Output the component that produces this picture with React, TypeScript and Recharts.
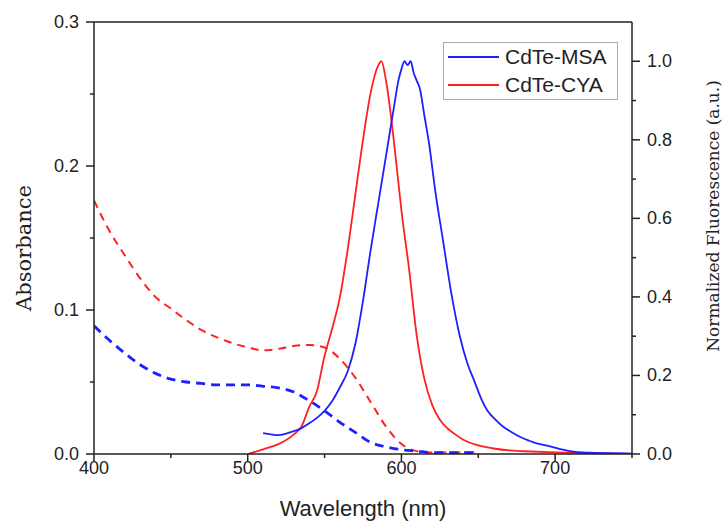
import { LineChart, Line, XAxis, YAxis, Legend, ReferenceLine } from 'recharts';

// absorbance (left axis), dashed
const absWl = [400, 410, 420, 430, 440, 450, 460, 470, 480, 490, 500, 510, 520, 530, 540, 550, 560, 570, 580, 590, 600, 610, 620, 630, 640, 650];
const msaAbs = [0.089, 0.079, 0.07, 0.062, 0.056, 0.052, 0.05, 0.049, 0.048, 0.048, 0.048, 0.047, 0.046, 0.043, 0.037, 0.03, 0.022, 0.015, 0.008, 0.005, 0.003, 0.002, 0.001, 0.001, 0.001, 0.001];
const cyaAbs = [0.176, 0.155, 0.138, 0.122, 0.109, 0.101, 0.093, 0.086, 0.081, 0.077, 0.074, 0.072, 0.073, 0.075, 0.0757, 0.074, 0.066, 0.053, 0.036, 0.019, 0.007, 0.002, 0.001, 0.001, 0.001, 0.001];

// normalized fluorescence (right axis), solid
const msaFlWl = [510, 515, 520, 525, 530, 535, 540, 545, 550, 555, 560, 565, 570, 575, 580, 585, 590, 595, 598, 600, 602, 604, 606, 608, 610, 612, 615, 618, 622, 627, 632, 638, 643, 647, 652, 656, 661, 666, 672, 677, 683, 688, 694, 699, 705, 712, 718, 725, 735, 750];
const msaFl = [0.053, 0.05, 0.048, 0.052, 0.058, 0.066, 0.078, 0.092, 0.11, 0.135, 0.17, 0.21, 0.28, 0.39, 0.52, 0.64, 0.76, 0.88, 0.95, 0.98, 1.0, 0.99, 1.0, 0.97, 0.95, 0.93, 0.86, 0.79, 0.67, 0.545, 0.42, 0.3, 0.23, 0.19, 0.14, 0.11, 0.088, 0.07, 0.055, 0.044, 0.034, 0.027, 0.022, 0.017, 0.011, 0.006, 0.004, 0.003, 0.002, 0.001];
const cyaFlWl = [500, 510, 520, 530, 535, 540, 545, 550, 555, 560, 565, 570, 575, 580, 585, 587, 590, 595, 600, 605, 610, 615, 620, 625, 630, 635, 640, 645, 650, 660, 670, 680, 700, 720, 750];
const cyaFl = [0.0, 0.012, 0.025, 0.05, 0.07, 0.12, 0.16, 0.25, 0.32, 0.4, 0.52, 0.66, 0.8, 0.92, 0.99, 1.0, 0.95, 0.8, 0.62, 0.47, 0.3, 0.19, 0.125, 0.087, 0.065, 0.05, 0.037, 0.028, 0.022, 0.014, 0.009, 0.007, 0.004, 0.002, 0.0];

const xTicks = [400, 450, 500, 550, 600, 650, 700, 750];
const absTicks = [0, 0.05, 0.1, 0.15, 0.2, 0.25, 0.3];
const flTicks = [0, 0.1, 0.2, 0.3, 0.4, 0.5, 0.6, 0.7, 0.8, 0.9, 1.0];

const BLUE = '#1f1fff';
const RED = '#ff2020';
const INK = '#222';
const SANS = '"Liberation Sans", Arial, sans-serif';
const SERIF = '"DejaVu Serif", serif';

const zip = (xs: number[], ys: number[]) => xs.map((wl, i) => ({ wl, v: ys[i] }));
const msaAbsData = zip(absWl, msaAbs);
const cyaAbsData = zip(absWl, cyaAbs);
const msaFlData = zip(msaFlWl, msaFl);
const cyaFlData = zip(cyaFlWl, cyaFl);

const XTick = ({ x, y, payload }: any) => {
  const major = payload.value % 100 === 0;
  return (
    <g>
      <line x1={x} x2={x} y1={y} y2={y + (major ? 8 : 4)} stroke={INK} strokeWidth={1.5} />
      {major && (
        <text x={x} y={y + 20} textAnchor="middle" fontFamily={SANS} fontSize={18} fill={INK}>
          {payload.value}
        </text>
      )}
    </g>
  );
};

const LeftTick = ({ x, y, payload }: any) => {
  const major = Math.round(payload.value * 100) % 10 === 0;
  return (
    <g>
      <line x1={x - (major ? 8 : 4)} x2={x} y1={y} y2={y} stroke={INK} strokeWidth={1.5} />
      {major && (
        <text x={x - 15} y={y + 6} textAnchor="end" fontFamily={SANS} fontSize={18} fill={INK}>
          {payload.value.toFixed(1)}
        </text>
      )}
    </g>
  );
};

const RightTick = ({ x, y, payload }: any) => {
  const major = Math.round(payload.value * 10) % 2 === 0;
  return (
    <g>
      <line x1={x} x2={x + (major ? 8 : 4)} y1={y} y2={y} stroke={INK} strokeWidth={1.5} />
      {major && (
        <text x={x + 15} y={y + 6} textAnchor="start" fontFamily={SANS} fontSize={18} fill={INK}>
          {payload.value.toFixed(1)}
        </text>
      )}
    </g>
  );
};

const legendItems = [
  { name: 'CdTe-MSA', color: BLUE },
  { name: 'CdTe-CYA', color: RED },
];

const LegendBox = () => (
  <div style={{
    width: 173, height: 56, border: '1px solid #aaa', background: '#fff',
    boxSizing: 'content-box', fontFamily: SANS, fontSize: 21, color: INK,
  }}>
    {legendItems.map((it) => (
      <div key={it.name} style={{ display: 'flex', alignItems: 'center', height: 28 }}>
        <div style={{ width: 51, height: 2, background: it.color, marginLeft: 4, marginRight: 6 }} />
        <span style={{ lineHeight: '28px' }}>{it.name}</span>
      </div>
    ))}
  </div>
);

export default function App() {
  return (
    <div style={{ position: 'absolute', left: 0, top: 0, width: 726, height: 522, background: '#fff' }}>
      <LineChart width={726} height={522} margin={{ top: 22, right: 0, bottom: 0, left: 0 }}>
        <XAxis
          dataKey="wl" type="number" domain={[400, 750]} ticks={xTicks} interval={0}
          allowDataOverflow height={68} tickSize={0} tickMargin={0} tickLine={false}
          axisLine={{ stroke: INK, strokeWidth: 1.5 }} tick={<XTick />}
          label={{
            content: () => (
              <text x={363} y={516} textAnchor="middle" fontFamily={SANS} fontSize={22} fill={INK}>
                Wavelength (nm)
              </text>
            ),
          }}
        />
        <YAxis
          yAxisId="abs" orientation="left" type="number" domain={[0, 0.3]} ticks={absTicks} interval={0}
          allowDataOverflow width={94} tickSize={0} tickMargin={0} tickLine={false}
          axisLine={{ stroke: INK, strokeWidth: 1.5 }} tick={<LeftTick />}
          label={{
            content: () => (
              <text x={31} y={248} transform="rotate(-90 31 248)" textAnchor="middle" fontFamily={SERIF} fontSize={21} fill={INK}>
                Absorbance
              </text>
            ),
          }}
        />
        <YAxis
          yAxisId="fl" orientation="right" type="number" domain={[0, 1.1]} ticks={flTicks} interval={0}
          allowDataOverflow width={94} tickSize={0} tickMargin={0} tickLine={false}
          axisLine={{ stroke: INK, strokeWidth: 1.5 }} tick={<RightTick />}
          label={{
            content: () => (
              <text x={719} y={216} transform="rotate(-90 719 216)" textAnchor="middle" fontFamily={SERIF} fontSize={17} fill={INK}>
                Normalized Fluorescence (a.u.)
              </text>
            ),
          }}
        />
        <ReferenceLine yAxisId="abs" y={0.3} stroke={INK} strokeWidth={1.5} />
        <Line yAxisId="abs" data={cyaAbsData} dataKey="v" type="monotone" stroke={RED} strokeWidth={2} strokeDasharray="8 6" dot={false} isAnimationActive={false} legendType="none" />
        <Line yAxisId="abs" data={msaAbsData} dataKey="v" type="monotone" stroke={BLUE} strokeWidth={2.8} strokeDasharray="9 6" dot={false} isAnimationActive={false} legendType="none" />
        <Line yAxisId="fl" data={cyaFlData} dataKey="v" type="monotone" stroke={RED} strokeWidth={1.8} dot={false} isAnimationActive={false} />
        <Line yAxisId="fl" data={msaFlData} dataKey="v" type="monotone" stroke={BLUE} strokeWidth={1.8} dot={false} isAnimationActive={false} />
        <Legend
          layout="vertical" align="center" verticalAlign="middle"
          wrapperStyle={{ left: 443, top: 42, width: 175 }}
          content={() => <LegendBox />}
        />
      </LineChart>
    </div>
  );
}
